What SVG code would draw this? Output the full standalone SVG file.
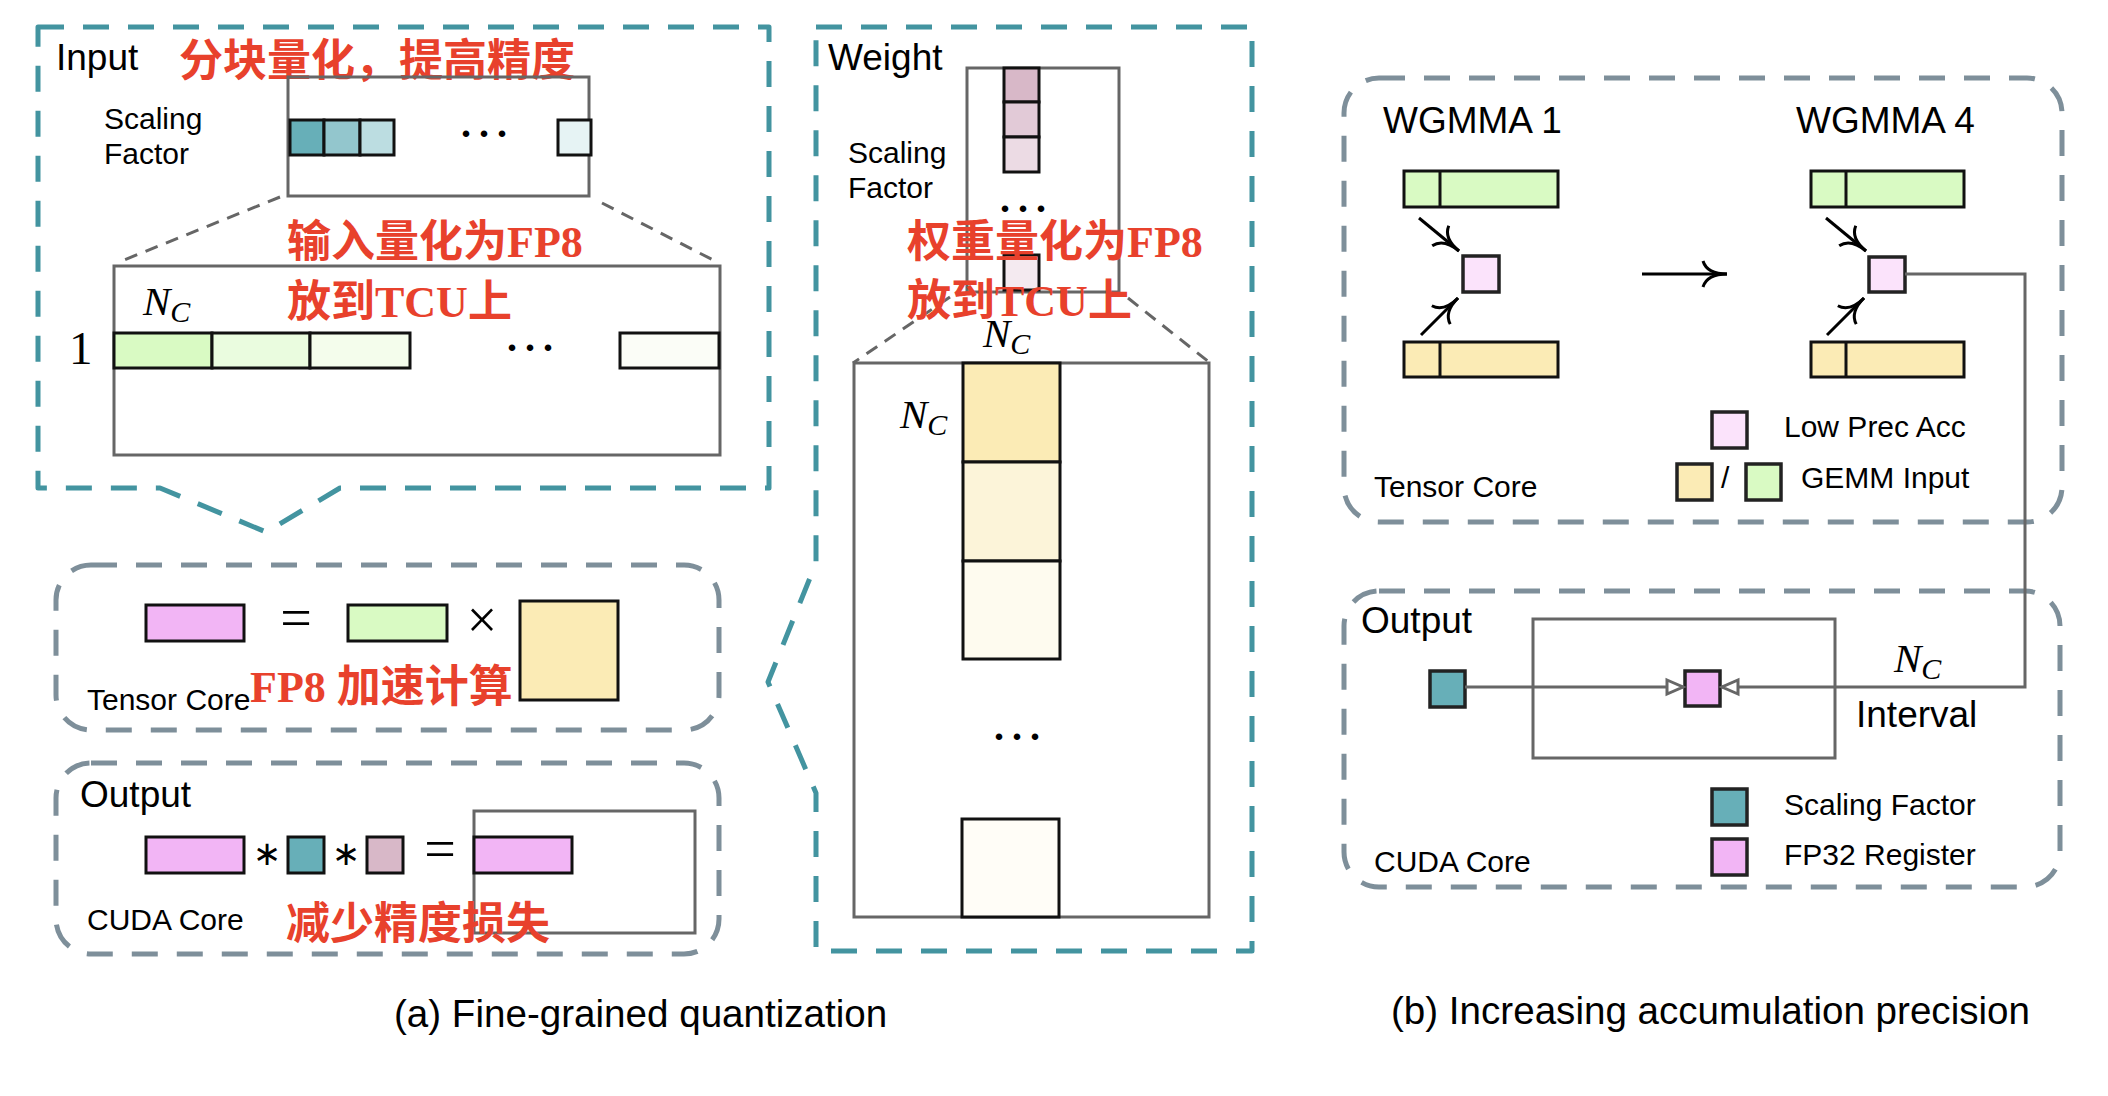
<svg xmlns="http://www.w3.org/2000/svg" width="2108" height="1096" viewBox="0 0 2108 1096">
<defs>
<style>
.tdash{fill:none;stroke:#4394a0;stroke-width:5;stroke-dasharray:26 19;stroke-linejoin:round}
.gdash{fill:none;stroke:#7e8f9a;stroke-width:5;stroke-dasharray:26 19}
.gbox{fill:none;stroke:#666;stroke-width:3}
.proj{fill:none;stroke:#666;stroke-width:3;stroke-dasharray:13 9}
.cell{stroke:#111;stroke-width:3}
.sq{stroke:#222;stroke-width:3.5}
.lbl{font-family:"Liberation Sans",Arial,sans-serif;fill:#000}
.red{font-family:"Liberation Serif","Noto Sans CJK SC",serif;font-weight:bold;fill:#e8412c;font-size:44px}
.math{font-family:"Liberation Serif",serif;font-style:italic;fill:#000}
.dots{font-family:"Liberation Serif",serif;font-weight:bold;font-size:40px;letter-spacing:8px;fill:#000}
.arr{fill:none;stroke:#000;stroke-width:3}
.conn{fill:none;stroke:#666;stroke-width:3}
</style>
<marker id="curv" markerUnits="userSpaceOnUse" viewBox="-30 -16 32 32" refX="0" refY="0" markerWidth="32" markerHeight="32" orient="auto" overflow="visible">
<path d="M -24,-13 Q -20,0 0,0 Q -20,0 -24,13" fill="none" stroke="#000" stroke-width="3"/>
</marker>
<marker id="tri" markerUnits="userSpaceOnUse" viewBox="-20 -10 22 20" refX="0" refY="0" markerWidth="22" markerHeight="20" orient="auto" overflow="visible">
<path d="M -16,-7 L 0,0 L -16,7 Z" fill="#fff" stroke="#666" stroke-width="3" stroke-linejoin="miter"/>
</marker>
</defs>
<rect width="2108" height="1096" fill="#fff"/>

<!-- Panel (a) Input -->
<g id="input-panel">
<path class="tdash" d="M 38,27 L 769,27 L 769,488 L 340,488 L 266,532 L 160,488 L 38,488 Z"/>
<text class="lbl" x="56" y="70" font-size="37">Input</text>
<text class="red" x="179" y="76">分块量化，提高精度</text>
<text class="lbl" x="104" y="129" font-size="30">Scaling</text>
<text class="lbl" x="104" y="164" font-size="30">Factor</text>
<rect class="gbox" x="288" y="77" width="301" height="119"/>
<rect class="cell" x="290" y="120" width="34" height="35" fill="#67afb8"/>
<rect class="cell" x="324" y="120" width="36" height="35" fill="#93c6cd"/>
<rect class="cell" x="360" y="120" width="34" height="35" fill="#bcdde1"/>
<text class="dots" x="461" y="137">...</text>
<rect class="cell" x="558" y="120" width="33" height="35" fill="#e6f3f4"/>
<path class="proj" d="M 280,197 L 119,262"/>
<path class="proj" d="M 602,203 L 717,262"/>
<rect class="gbox" x="114" y="266" width="606" height="189"/>
<text class="math" x="143" y="315" font-size="41">N<tspan font-size="30" dy="7">C</tspan></text>
<text x="69" y="364" font-family="Liberation Serif,serif" font-size="47">1</text>
<rect class="cell" x="114" y="333" width="98" height="35" fill="#d9fac3"/>
<rect class="cell" x="212" y="333" width="98" height="35" fill="#eafcdf"/>
<rect class="cell" x="310" y="333" width="100" height="35" fill="#f4fdec"/>
<text class="dots" x="507" y="351">...</text>
<rect class="cell" x="620" y="333" width="99" height="35" fill="#fbfdf7"/>
<text class="red" x="287" y="257">输入量化为FP8</text>
<text class="red" x="287" y="317">放到TCU上</text>
</g>

<!-- Panel (a) Tensor Core -->
<g id="tensor-core-a">
<rect class="gdash" x="56" y="565" width="663" height="165" rx="35"/>
<rect class="cell" x="146" y="605" width="98" height="36" fill="#f2b5f5"/>
<text x="296" y="637" font-family="Liberation Serif,serif" font-size="56" text-anchor="middle">=</text>
<rect class="cell" x="348" y="605" width="99" height="36" fill="#d9fac3"/>
<text x="482" y="638" font-family="Liberation Serif,serif" font-size="54" text-anchor="middle">×</text>
<rect class="cell" x="520" y="601" width="98" height="99" fill="#fbebb5"/>
<text class="lbl" x="87" y="710" font-size="30">Tensor Core</text>
<text class="red" x="250" y="702" font-size="43">FP8 加速计算</text>
</g>

<!-- Panel (a) Output -->
<g id="output-a">
<rect class="gdash" x="56" y="763" width="663" height="191" rx="35"/>
<text class="lbl" x="80" y="807" font-size="37">Output</text>
<rect class="gbox" x="474" y="811" width="221" height="122"/>
<rect class="cell" x="146" y="837" width="98" height="36" fill="#f2b5f5"/>
<text x="267" y="865" font-family="DejaVu Sans,sans-serif" font-size="34" text-anchor="middle">∗</text>
<rect class="cell" x="288" y="837" width="36" height="36" fill="#67afb8"/>
<text x="346" y="865" font-family="DejaVu Sans,sans-serif" font-size="34" text-anchor="middle">∗</text>
<rect class="cell" x="367" y="837" width="36" height="36" fill="#d8b8c8"/>
<text x="440" y="868" font-family="Liberation Serif,serif" font-size="56" text-anchor="middle">=</text>
<rect class="cell" x="474" y="837" width="98" height="36" fill="#f2b5f5"/>
<text class="lbl" x="87" y="930" font-size="30">CUDA Core</text>
<text class="red" x="286" y="939" font-size="43">减少精度损失</text>
</g>

<!-- Panel (a) Weight -->
<g id="weight-panel">
<path class="tdash" d="M 816,27 L 1252,27 L 1252,951 L 816,951 L 816,793 L 768,682 L 816,563 Z"/>
<text class="lbl" x="828" y="70" font-size="37">Weight</text>
<text class="lbl" x="848" y="163" font-size="30">Scaling</text>
<text class="lbl" x="848" y="198" font-size="30">Factor</text>
<rect class="gbox" x="967" y="68" width="152" height="224"/>
<rect class="cell" x="1004" y="68" width="35" height="34" fill="#d8b8c8"/>
<rect class="cell" x="1004" y="102" width="35" height="35" fill="#e2cad7"/>
<rect class="cell" x="1004" y="137" width="35" height="35" fill="#ecdbe4"/>
<text class="dots" x="1000" y="212">...</text>
<rect class="cell" x="1004" y="255" width="35" height="35" fill="#f4eaf0"/>
<path class="proj" d="M 950,297 L 853,363"/>
<path class="proj" d="M 1128,298 L 1209,362"/>
<rect class="gbox" x="854" y="363" width="355" height="554"/>
<text class="math" x="983" y="347" font-size="41">N<tspan font-size="30" dy="7">C</tspan></text>
<text class="math" x="900" y="428" font-size="41">N<tspan font-size="30" dy="7">C</tspan></text>
<rect class="cell" x="963" y="363" width="97" height="99" fill="#fbebb5"/>
<rect class="cell" x="963" y="462" width="97" height="99" fill="#fcf4d9"/>
<rect class="cell" x="963" y="561" width="97" height="98" fill="#fefbef"/>
<text class="dots" x="994" y="740">...</text>
<rect class="cell" x="962" y="819" width="97" height="98" fill="#fffdf7"/>
<text class="red" x="907" y="257">权重量化为FP8</text>
<text class="red" x="907" y="316">放到TCU上</text>
</g>

<!-- Panel (b) Tensor Core -->
<g id="tensor-core-b">
<rect class="gdash" x="1344" y="78" width="718" height="444" rx="35"/>
<text class="lbl" x="1383" y="133" font-size="37">WGMMA 1</text>
<text class="lbl" x="1796" y="133" font-size="37">WGMMA 4</text>
<rect class="cell" x="1404" y="171" width="154" height="36" fill="#d9fac3"/>
<line class="cell" x1="1440" y1="171" x2="1440" y2="207"/>
<rect class="cell" x="1404" y="342" width="154" height="35" fill="#fbebb5"/>
<line class="cell" x1="1440" y1="342" x2="1440" y2="377"/>
<rect class="sq" x="1463" y="256" width="36" height="36" fill="#fbe3fb"/>
<rect class="cell" x="1811" y="171" width="153" height="36" fill="#d9fac3"/>
<line class="cell" x1="1846" y1="171" x2="1846" y2="207"/>
<rect class="cell" x="1811" y="342" width="153" height="35" fill="#fbebb5"/>
<line class="cell" x1="1846" y1="342" x2="1846" y2="377"/>
<rect class="sq" x="1869" y="257" width="36" height="35" fill="#fbe3fb"/>
<rect class="sq" x="1712" y="412" width="35" height="36" fill="#fbe3fb"/>
<text class="lbl" x="1784" y="437" font-size="30">Low Prec Acc</text>
<rect class="sq" x="1677" y="464" width="35" height="36" fill="#fbebb5"/>
<text class="lbl" x="1721" y="488" font-size="30">/</text>
<rect class="sq" x="1746" y="464" width="35" height="36" fill="#d9fac3"/>
<text class="lbl" x="1801" y="488" font-size="30">GEMM Input</text>
<text class="lbl" x="1374" y="497" font-size="30">Tensor Core</text>
</g>

<!-- Panel (b) Output -->
<g id="output-b">
<rect class="gdash" x="1344" y="591" width="716" height="296" rx="35"/>
<text class="lbl" x="1361" y="633" font-size="37">Output</text>
<rect class="gbox" x="1533" y="619" width="302" height="139"/>
<rect class="sq" x="1430" y="671" width="35" height="36" fill="#67afb8"/>
<rect class="sq" x="1685" y="671" width="35" height="35" fill="#f2b5f5"/>
<text class="math" x="1894" y="672" font-size="41">N<tspan font-size="30" dy="7">C</tspan></text>
<text class="lbl" x="1856" y="727" font-size="37">Interval</text>
<rect class="sq" x="1712" y="789" width="35" height="36" fill="#67afb8"/>
<text class="lbl" x="1784" y="815" font-size="30">Scaling Factor</text>
<rect class="sq" x="1712" y="839" width="35" height="36" fill="#f2b5f5"/>
<text class="lbl" x="1784" y="865" font-size="30">FP32 Register</text>
<text class="lbl" x="1374" y="872" font-size="30">CUDA Core</text>
</g>

<!-- Connectors -->
<g id="connectors">
<line class="arr" x1="1419" y1="218" x2="1459" y2="251" marker-end="url(#curv)"/>
<line class="arr" x1="1421" y1="335" x2="1458" y2="298" marker-end="url(#curv)"/>
<line class="arr" x1="1642" y1="274" x2="1727" y2="274" marker-end="url(#curv)"/>
<line class="arr" x1="1826" y1="218" x2="1866" y2="251" marker-end="url(#curv)"/>
<line class="arr" x1="1827" y1="335" x2="1864" y2="298" marker-end="url(#curv)"/>
<polyline class="conn" points="1905,274 2025,274 2025,687 1722,687" marker-end="url(#tri)"/>
<line class="conn" x1="1465" y1="687" x2="1683" y2="687" marker-end="url(#tri)"/>
</g>

<!-- Captions -->
<text class="lbl" x="394" y="1027" font-size="38.6">(a) Fine-grained quantization</text>
<text class="lbl" x="1391" y="1024" font-size="38.6">(b) Increasing accumulation precision</text>
</svg>
